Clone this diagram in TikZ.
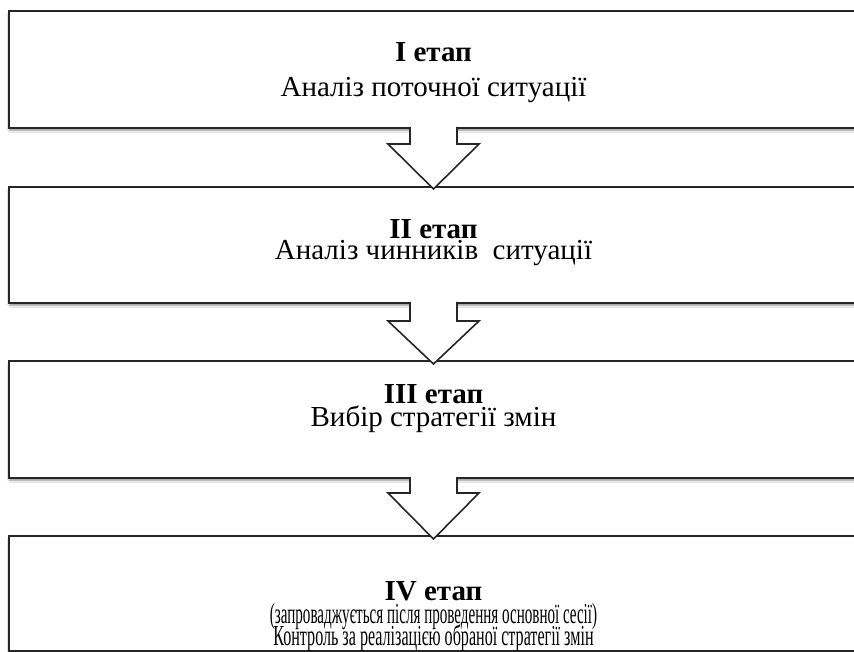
\documentclass[tikz,border=0pt]{standalone}
\usepackage{fontspec}
\setmainfont{Liberation Serif}
\usetikzlibrary{shadows.blur}
\begin{document}
\begin{tikzpicture}[x=1pt,y=-1pt,
  stagebox/.style={draw=black!85, line width=1.6pt, fill=white, inner sep=0pt,
    anchor=north west, minimum width=892pt,
    blur shadow={shadow xshift=1pt, shadow yshift=-2.5pt, shadow blur steps=6, shadow opacity=45}},
  arrowfill/.style={fill=white},
  arrowline/.style={draw=black!85, line width=1.6pt, line join=miter},
  stagehead/.style={anchor=base, inner sep=0pt, font=\fontsize{29}{31}\selectfont\bfseries},
  stagetext/.style={anchor=base, inner sep=0pt, font=\fontsize{29}{31}\selectfont}]

\useasboundingbox (0,0) rectangle (854,652);
\fill[white] (0,0) rectangle (854,652);
\clip (0,0) rectangle (854,652);

% stage boxes (the right side runs past the page edge)
\node[stagebox, minimum height=117pt] (s1) at (8,10) {};
\node[stagebox, minimum height=116pt] (s2) at (8,186) {};
\node[stagebox, minimum height=117pt] (s3) at (8,360) {};
\node[stagebox, minimum height=115pt] (s4) at (8,535) {};

% hollow block arrows between the stages
\foreach \top/\neck/\tip in {127/144/189, 302/321/364, 477/493/539}{
  \fill[arrowfill] (410,\top-2) -- (410,\neck) -- (388,\neck) -- (433.5,\tip)
        -- (479,\neck) -- (457,\neck) -- (457,\top-2) -- cycle;
  \draw[arrowline] (410,\top) -- (410,\neck) -- (388,\neck) -- (433.5,\tip)
        -- (479,\neck) -- (457,\neck) -- (457,\top);
}

% stage labels
\node[stagehead] (h1) at (433.5,62) {I етап};
\node[stagetext] (d1) at (433.5,97) {Аналіз поточної ситуації};

\node[stagehead] (h2) at (433.5,239) {II етап};
\node[stagetext] (d2) at (433.5,260) {Аналіз чинників\ \ ситуації};

\node[stagehead] (h3) at (433.5,403) {III етап};
\node[stagetext] (d3) at (433.5,426) {Вибір стратегії змін};

\node[stagehead] (h4) at (433.5,600) {IV етап};
\node[stagetext] (d4a) at (433.5,623) {\scalebox{0.52}[1]{(запроваджується після проведення основної сесії)}};
\node[stagetext] (d4b) at (433.5,645) {\scalebox{0.555}[1]{Контроль за реалізацією обраної стратегії змін}};
\end{tikzpicture}
\end{document}
